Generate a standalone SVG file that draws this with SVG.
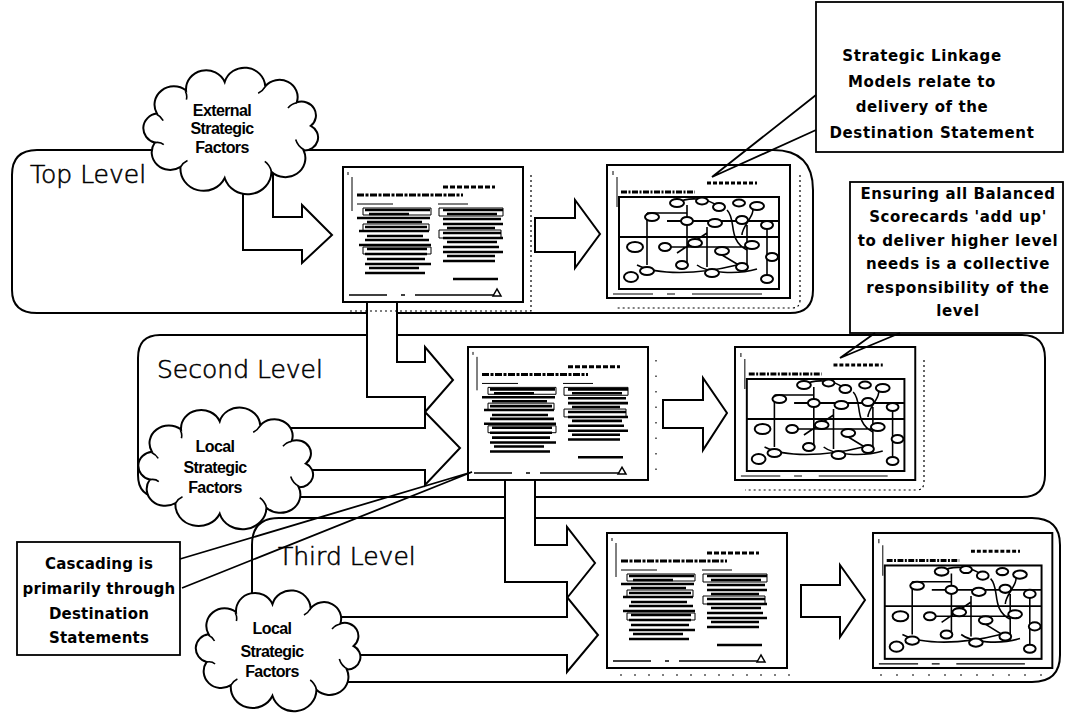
<svg xmlns="http://www.w3.org/2000/svg" xmlns:xlink="http://www.w3.org/1999/xlink" width="1066" height="713" viewBox="0 0 1066 713">
  <style>
    .panel{fill:#fff;stroke:#000;stroke-width:2}
    .arrow{fill:#fff;stroke:#000;stroke-width:2;stroke-linejoin:miter}
    .box{fill:#fff;stroke:#000;stroke-width:1.8}
    .ptr{fill:none;stroke:#000;stroke-width:1.8}
    .cloud{fill:#fff;stroke:#000;stroke-width:2}
    .inner{fill:none;stroke:#000;stroke-width:1.6}
    .dots{fill:none;stroke:#000;stroke-width:1.2;stroke-dasharray:2 3}
    .lvl{font-family:"DejaVu Sans","Liberation Sans",sans-serif;font-weight:200;font-size:25px;fill:#000;stroke:#000;stroke-width:0.6px}
    .cl{font-family:"Liberation Sans",Arial,sans-serif;font-weight:bold;font-size:16px;letter-spacing:-0.6px;text-anchor:middle;fill:#000}
    .co{font-family:"DejaVu Sans",Verdana,sans-serif;font-weight:bold;font-size:15px;letter-spacing:0.6px;text-anchor:middle;fill:#000}
    .ink{fill:none;stroke:#000}
  </style>
  <defs>
    <!-- cloud outline, local box approx 7..170 x 3..129 -->
    <g id="cloudShape">
      <path class="cloud" vector-effect="non-scaling-stroke" d="M22.3 49.3 A17.5 17.5 0 0 1 48.7 27.3 A18.2 18.2 0 0 1 83.7 19.2 A18.7 18.7 0 0 1 120.4 23.3 A16.5 16.5 0 0 1 149 38.6 A13.1 13.1 0 0 1 161.7 61 A12.5 12.5 0 0 1 155.2 84.5 A18.1 18.1 0 0 1 126 104.8 A21.6 21.6 0 0 1 83.7 110.8 A21 21 0 0 1 43.7 100.2 A16.8 16.8 0 0 1 20.4 76.9 A14.1 14.1 0 0 1 22.3 49.3 Z"/>
      <path class="inner" vector-effect="non-scaling-stroke" d="M22 50 q4 2 6 6 M48 28 q2 4 1 8 M120 24 q-2 4 -6 6 M149 39 q-5 1 -8 5 M156 84 q-6 -3 -8 -10 M126 104 q-2 -6 -6 -9 M44 100 q2 -4 6 -6 M20.5 77 q5 -1 8 2"/>
    </g>
    <!-- page with two text columns -->
    <g id="docPage">
      <rect x="0" y="0" width="180" height="135" fill="#fff" stroke="#000" stroke-width="2"/>
      <path class="ink" stroke-width="1" d="M5 5v3M9 10v34"/>
      <path class="ink" stroke-width="3" stroke-dasharray="5 2" d="M100 20h52"/>
      <path class="ink" stroke-width="3" stroke-dasharray="7 1.5 3 1.5" d="M14 28h106"/>
      <path class="ink" stroke-width="1" d="M14 37h36M95 37h30"/>
      <path class="ink" stroke-width="1" d="M20 41h68v7h-68zM20 57h66v7h-66zM20 80h68v7h-68zM96 41h64v8h-64zM96 63h62v8h-62z"/>
      <path class="ink" stroke-width="2.6" d="M22 43h65M26 47h40M14 51h73M24 55h55M22 60h62M16 64h70M24 69h56M22 73h64M16 78h72M24 82h60M22 87h62M24 92h58M22 97h66M26 101h50M22 106h60"/>
      <path class="ink" stroke-width="2.6" d="M100 43h60M104 47h50M100 52h58M100 57h60M104 61h48M100 66h58M100 71h60M104 75h50M100 80h56M100 85h60M104 89h48M100 94h52"/>
      <path class="ink" stroke-width="2.5" d="M110 112h45"/>
      <path class="ink" stroke-width="1.5" d="M6 128h38M58 128h4M72 128h80"/>
      <path d="M150 129l4-7l4 7z" fill="#fff" stroke="#000" stroke-width="1.5"/>
    </g>
    <!-- page with a linkage model network -->
    <g id="mapPage">
      <rect x="0" y="0" width="183" height="133" fill="#fff" stroke="#000" stroke-width="2"/>
      <path class="ink" stroke-width="1" d="M6 6v4M10 12v30"/>
      <path class="ink" stroke-width="3" stroke-dasharray="4 2" d="M100 18h50"/>
      <path class="ink" stroke-width="3" stroke-dasharray="6 1.5 2 1.5" d="M14 27h74"/>
      <rect x="12" y="32" width="160" height="92" fill="none" stroke="#000" stroke-width="2"/>
      <path class="ink" stroke-width="1.8" d="M12 72h160M60 56h112"/>
      <path class="ink" stroke-width="1.6" d="M40 48V100M40 48h40M80 40v60M55 82h90M100 62v40M120 45c10 10 0 30 20 40M140 60v45M160 60v55M30 100c20 10 60 10 100 0M90 100c10 8 40 10 60 4M70 88l30-20M115 90l20 12M70 38c10-6 30-6 42 4M145 40c5 10 -10 20 -10 30"/>
      <g fill="#fff" stroke="#000" stroke-width="2">
        <ellipse cx="70" cy="38" rx="7" ry="4"/><ellipse cx="95" cy="36" rx="6" ry="3.5"/><ellipse cx="112" cy="42" rx="6" ry="4"/>
        <ellipse cx="132" cy="38" rx="6" ry="3.5"/><ellipse cx="150" cy="41" rx="7" ry="4"/><ellipse cx="45" cy="52" rx="7" ry="4"/>
        <ellipse cx="80" cy="56" rx="6" ry="4"/><ellipse cx="108" cy="58" rx="7" ry="4"/><ellipse cx="135" cy="55" rx="6" ry="4"/>
        <ellipse cx="160" cy="60" rx="6" ry="4"/><ellipse cx="28" cy="82" rx="8" ry="5"/><ellipse cx="58" cy="82" rx="6" ry="4"/>
        <ellipse cx="88" cy="78" rx="7" ry="4"/><ellipse cx="115" cy="86" rx="7" ry="4"/><ellipse cx="145" cy="80" rx="7" ry="4"/>
        <ellipse cx="165" cy="92" rx="6" ry="4"/><ellipse cx="40" cy="106" rx="7" ry="4"/><ellipse cx="75" cy="100" rx="6" ry="4"/>
        <ellipse cx="105" cy="108" rx="7" ry="4"/><ellipse cx="135" cy="102" rx="6" ry="4"/><ellipse cx="160" cy="114" rx="6" ry="4"/>
        <ellipse cx="24" cy="112" rx="7" ry="5"/>
      </g>
      <path class="ink" stroke-width="1.2" d="M6 129h40M60 129h8M85 129h70"/>
    </g>
  </defs>

  <!-- level panels -->
  <g id="top-level">
    <path class="panel" d="M12 175Q12 150 37 150H773Q813 150 813 190V290Q813 313 790 313H37Q12 313 12 290Z"/>
    <text class="lvl" x="30" y="183">Top Level</text>
  </g>
  <g id="second-level">
    <path class="panel" d="M138 358Q138 335 160 335H1022Q1045 335 1045 358V475Q1045 497 1022 497H160Q138 497 138 475Z"/>
    <text class="lvl" x="157" y="378">Second Level</text>
  </g>
  <g id="third-level">
    <path class="panel" d="M252 545Q252 518 279 518H1032Q1060 518 1060 545V655Q1060 682 1032 682H279Q252 682 252 655Z"/>
    <text class="lvl" x="278" y="565">Third Level</text>
  </g>

  <!-- block arrows -->
  <g id="connectors">
    <polygon class="arrow" points="243,175 243,250 302,250 302,263 332,235 302,205 302,217 273,217 273,165"/>
    <polygon class="arrow" points="535,218 575,218 575,200 600,234 575,268 575,252 535,252"/>
    <polygon class="arrow" points="367,300 367,397 425,397 425,412 453,380 425,347 425,362 397,362 397,300"/>
    <polygon class="arrow" points="290,428 425,428 425,412 460,448 425,485 425,470 290,470"/>
    <polygon class="arrow" points="663,400 703,400 703,378 727,413 703,450 703,428 663,428"/>
    <polygon class="arrow" points="505,475 505,582 567,582 567,598 595,563 567,527 567,545 535,545 535,475"/>
    <polygon class="arrow" points="340,617 567,617 567,597 598,635 567,672 567,655 340,655"/>
    <polygon class="arrow" points="801,585 840,585 840,565 865,600 840,637 840,617 801,617"/>
  </g>

  <!-- page thumbnails -->
  <g id="dest-top">
    <path class="dots" d="M531 175V311H350"/>
    <use xlink:href="#docPage" transform="translate(343,167)"/>
  </g>
  <g id="slm-top">
    <path class="dots" d="M800 175V300Q800 308 792 308H615"/>
    <use xlink:href="#mapPage" transform="translate(607,165)"/>
  </g>
  <g id="dest-second">
    <path class="dots" d="M656 360V478" style="stroke-dasharray:1.5 14"/>
    <use xlink:href="#docPage" transform="translate(468,347) scale(1,0.985)"/>
  </g>
  <g id="slm-second">
    <path class="dots" d="M924 360V482Q924 490 916 490H745"/>
    <use xlink:href="#mapPage" transform="translate(735,347) scale(0.985,1)"/>
  </g>
  <g id="dest-third">
    <path class="dots" d="M620 675H790" style="stroke-dasharray:2 12"/>
    <use xlink:href="#docPage" transform="translate(607,533)"/>
  </g>
  <g id="slm-third">
    <path class="dots" d="M880 675H1055" style="stroke-dasharray:2 14"/>
    <use xlink:href="#mapPage" transform="translate(873,533) scale(0.98,1.015)"/>
  </g>

  <!-- strategic factor clouds -->
  <g id="external-factors">
    <use xlink:href="#cloudShape" transform="translate(132.3,61.9) scale(1.104,1.048)"/>
    <text class="cl" x="222" y="116">External</text>
    <text class="cl" x="222" y="134">Strategic</text>
    <text class="cl" x="222" y="153">Factors</text>
  </g>
  <g id="local-factors-2">
    <use xlink:href="#cloudShape" transform="translate(127.3,402) scale(1.104,1.008)"/>
    <text class="cl" x="215" y="452">Local</text>
    <text class="cl" x="215" y="473">Strategic</text>
    <text class="cl" x="215" y="493">Factors</text>
  </g>
  <g id="local-factors-3">
    <use xlink:href="#cloudShape" transform="translate(185.4,585) scale(1.04,1.0)"/>
    <text class="cl" x="272" y="634">Local</text>
    <text class="cl" x="272" y="657">Strategic</text>
    <text class="cl" x="272" y="677">Factors</text>
  </g>

  <!-- callouts -->
  <g id="note-linkage">
    <rect class="box" x="816" y="2" width="247" height="150"/>
    <polyline class="ptr" points="816,95 712,177 816,130"/>
    <text class="co" x="922" y="61">Strategic Linkage</text>
    <text class="co" x="922" y="87">Models relate to</text>
    <text class="co" x="922" y="112">delivery of the</text>
    <text class="co" x="932" y="138">Destination Statement</text>
  </g>
  <g id="note-scorecards">
    <rect class="box" x="850" y="182" width="213" height="151"/>
    <polyline class="ptr" points="875,333 840,358 900,333"/>
    <text class="co" x="958" y="199">Ensuring all Balanced</text>
    <text class="co" x="958" y="222">Scorecards 'add up'</text>
    <text class="co" x="958" y="246">to deliver higher level</text>
    <text class="co" x="958" y="269">needs is a collective</text>
    <text class="co" x="958" y="293">responsibility of the</text>
    <text class="co" x="958" y="316">level</text>
  </g>
  <g id="note-cascading">
    <rect class="box" x="17" y="542" width="163" height="113"/>
    <polyline class="ptr" points="180,559 472,472 182,588"/>
    <text class="co" x="99" y="569" style="letter-spacing:0.2px">Cascading is</text>
    <text class="co" x="99" y="594" style="letter-spacing:0.2px">primarily through</text>
    <text class="co" x="99" y="619" style="letter-spacing:0.2px">Destination</text>
    <text class="co" x="99" y="643" style="letter-spacing:0.2px">Statements</text>
  </g>
</svg>
